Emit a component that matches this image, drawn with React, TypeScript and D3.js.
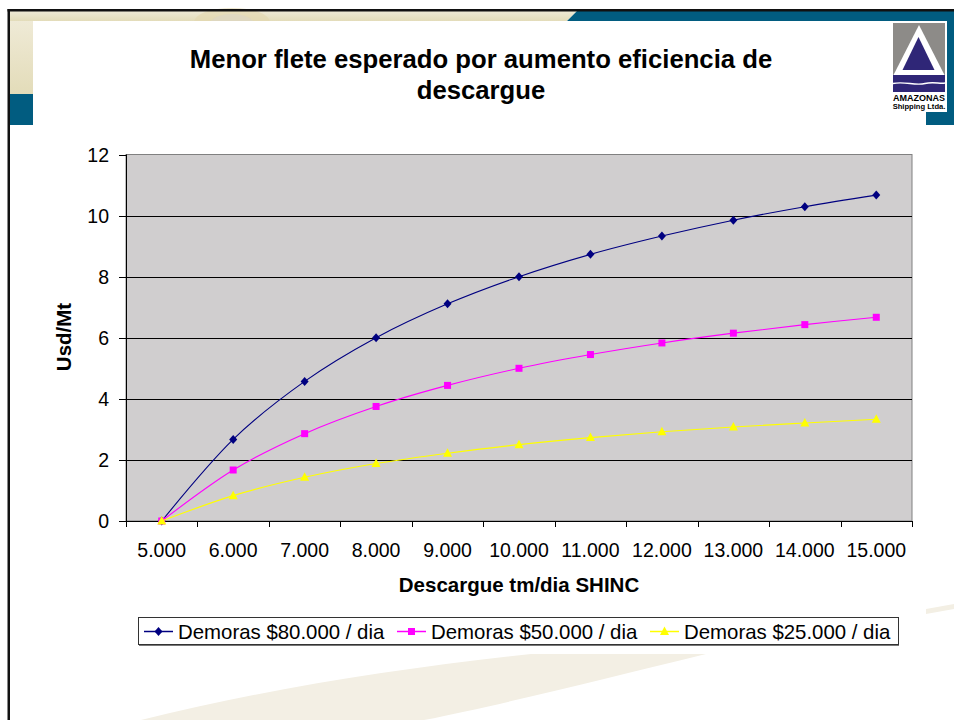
import React from "react";
import * as d3 from "d3";

const categories = ["5.000", "6.000", "7.000", "8.000", "9.000", "10.000", "11.000", "12.000", "13.000", "14.000", "15.000"];
const demoras80 = [0, 2.67, 4.57, 6.0, 7.11, 8.0, 8.73, 9.33, 9.85, 10.29, 10.67];
const demoras50 = [0, 1.67, 2.86, 3.75, 4.44, 5.0, 5.45, 5.83, 6.15, 6.43, 6.67];
const demoras25 = [0, 0.83, 1.43, 1.88, 2.22, 2.5, 2.73, 2.92, 3.08, 3.21, 3.33];
const yTicks = [0, 2, 4, 6, 8, 10, 12];
const seriesNames = ["Demoras $80.000 / dia", "Demoras $50.000 / dia", "Demoras $25.000 / dia"];

const FONT = "'Liberation Sans', Arial, Helvetica, sans-serif";

const series = [
  { name: seriesNames[0], values: demoras80, color: "#000080", marker: "diamond" },
  { name: seriesNames[1], values: demoras50, color: "#ff00ff", marker: "square" },
  { name: seriesNames[2], values: demoras25, color: "#ffff00", marker: "triangle" },
];

function Marker({ type, x, y, color }: { type: string; x: number; y: number; color: string }) {
  if (type === "diamond") {
    return <path d={`M${x},${y - 4.5}L${x + 4},${y}L${x},${y + 4.5}L${x - 4},${y}Z`} fill={color} />;
  }
  if (type === "square") {
    return <rect x={x - 3.5} y={y - 3.5} width={7} height={7} fill={color} />;
  }
  return <path d={`M${x},${y - 5}L${x + 4.5},${y + 3.5}L${x - 4.5},${y + 3.5}Z`} fill={color} />;
}

export default function App() {
  const left = 126, right = 912, top = 154.5, bottom = 521;
  const x = d3.scaleBand<string>().domain(categories).range([left, right]).padding(0);
  const y = d3.scaleLinear().domain([0, 12]).range([bottom, top]);
  const bw = x.bandwidth();
  const cx = (c: string) => (x(c) as number) + bw / 2;
  const line = d3
    .line<number>()
    .x((_, i) => cx(categories[i]))
    .y((v) => y(v))
    .curve(d3.curveCardinal.tension(0));

  const legendX = [144, 397, 650];

  return (
    <svg
      width={954}
      height={720}
      style={{ position: "absolute", left: 0, top: 0, display: "block", background: "#fff" }}
      fontFamily={FONT}
    >
      <defs>
        <linearGradient id="beige" x1="0" y1="0" x2="0" y2="1">
          <stop offset="0" stopColor="#efead6" />
          <stop offset="1" stopColor="#e3dcb9" />
        </linearGradient>
      </defs>
      {/* slide decoration */}
      <rect x={0} y={0} width={954} height={720} fill="#fff" />
      <path d="M10,11L577,11L567,21L10,21Z" fill="url(#beige)" />
      <rect x={10} y={21} width={23} height={73} fill="url(#beige)" />
      <ellipse cx={232} cy={22} rx={38} ry={14} fill="#e2d7ad" opacity={0.6} />
      <ellipse cx={232} cy={24} rx={22} ry={10} fill="#d9d6cc" opacity={0.5} />
      <rect x={33} y={21} width={893} height={110} fill="#fff" />
      <path d="M577,11L954,11L954,125L926,125L926,21L567,21Z" fill="#015c80" />
      <rect x={10} y={94} width={23} height={31} fill="#015c80" />
      <path d="M141,720C260,690 400,668 531,654L706,654C600,680 500,705 424,720Z" fill="#f3efe4" />
      <path d="M926,609L954,604L954,609L926,614Z" fill="#f3efe4" />
      <rect x={7.5} y={9} width={2.5} height={711} fill="#111" />
      <rect x={7.5} y={9} width={946.5} height={2.5} fill="#111" />

      {/* logo */}
      <rect x={890} y={21} width={57} height={91} fill="#fff" />
      <rect x={893} y={23} width={52} height={53} fill="#8d8b88" />
      <path d="M919,25L945,76L893,76Z" fill="#fff" />
      <path d="M918.5,37L934.5,70L902.5,70Z" fill="#2f2677" />
      <rect x={893} y={75} width={52} height={17} fill="#2f2677" />
      <path d="M893,83.5C905,81 915,86 925,83.5C933,81.5 940,84 945,83" stroke="#fff" strokeWidth={1.4} fill="none" />
      <text x={919} y={100.5} textAnchor="middle" fontSize={9} fontWeight="bold" fill="#000">AMAZONAS</text>
      <text x={919} y={109.3} textAnchor="middle" fontSize={7.6} fontWeight="bold" fill="#000">Shipping Ltda.</text>

      {/* title */}
      <text x={481} y={68} textAnchor="middle" fontSize={25.7} fontWeight="bold" fill="#000">
        Menor flete esperado por aumento eficiencia de
      </text>
      <text x={481} y={99} textAnchor="middle" fontSize={25.7} fontWeight="bold" fill="#000">
        descargue
      </text>

      {/* plot area */}
      <rect x={left} y={top} width={right - left} height={bottom - top} fill="#d0cecf" stroke="#808080" strokeWidth={1} />
      {yTicks.filter((t) => t > 0 && t < 12).map((t) => (
        <line key={t} x1={left} x2={right} y1={Math.round(y(t)) + 0.5} y2={Math.round(y(t)) + 0.5} stroke="#000" strokeWidth={1} />
      ))}

      {/* y axis */}
      <line x1={left + 0.5} x2={left + 0.5} y1={top} y2={bottom} stroke="#000" />
      {yTicks.map((t) => (
        <g key={t}>
          <line x1={left - 7} x2={left} y1={Math.round(y(t)) + 0.5} y2={Math.round(y(t)) + 0.5} stroke="#000" />
          <text x={109} y={y(t) + 7} textAnchor="end" fontSize={19.5} fill="#000">{t}</text>
        </g>
      ))}

      {/* x axis */}
      <line x1={left} x2={right} y1={bottom + 0.5} y2={bottom + 0.5} stroke="#000" />
      {d3.range(categories.length + 1).map((i) => (
        <line key={i} x1={Math.round(left + i * bw) + 0.5} x2={Math.round(left + i * bw) + 0.5} y1={bottom} y2={bottom + 6} stroke="#000" />
      ))}
      {categories.map((c) => (
        <text key={c} x={cx(c)} y={557} textAnchor="middle" fontSize={19.5} fill="#000">{c}</text>
      ))}

      {/* series */}
      {series.map((s) => (
        <g key={s.name}>
          <path d={line(s.values) as string} fill="none" stroke={s.color} strokeWidth={1.1} />
          {s.values.map((v, i) => (
            <Marker key={i} type={s.marker} x={cx(categories[i])} y={y(v)} color={s.color} />
          ))}
        </g>
      ))}

      {/* axis titles */}
      <text x={519} y={592} textAnchor="middle" fontSize={20.5} fontWeight="bold" fill="#000">
        Descargue tm/dia SHINC
      </text>
      <text transform="translate(71,337) rotate(-90)" textAnchor="middle" fontSize={20.5} fontWeight="bold" fill="#000">
        Usd/Mt
      </text>

      {/* legend */}
      <rect x={138.5} y={617.5} width={760} height={27} fill="#fff" stroke="#333" strokeWidth={1} />
      <line x1={139} x2={899} y1={645.5} y2={645.5} stroke="#777" />
      {series.map((s, i) => (
        <g key={s.name}>
          <line x1={legendX[i]} x2={legendX[i] + 29} y1={631.5} y2={631.5} stroke={s.color} strokeWidth={1.5} />
          <Marker type={s.marker} x={legendX[i] + 14.5} y={631.5} color={s.color} />
          <text x={legendX[i] + 34} y={638.5} fontSize={20.4} fill="#000">{s.name}</text>
        </g>
      ))}
    </svg>
  );
}
